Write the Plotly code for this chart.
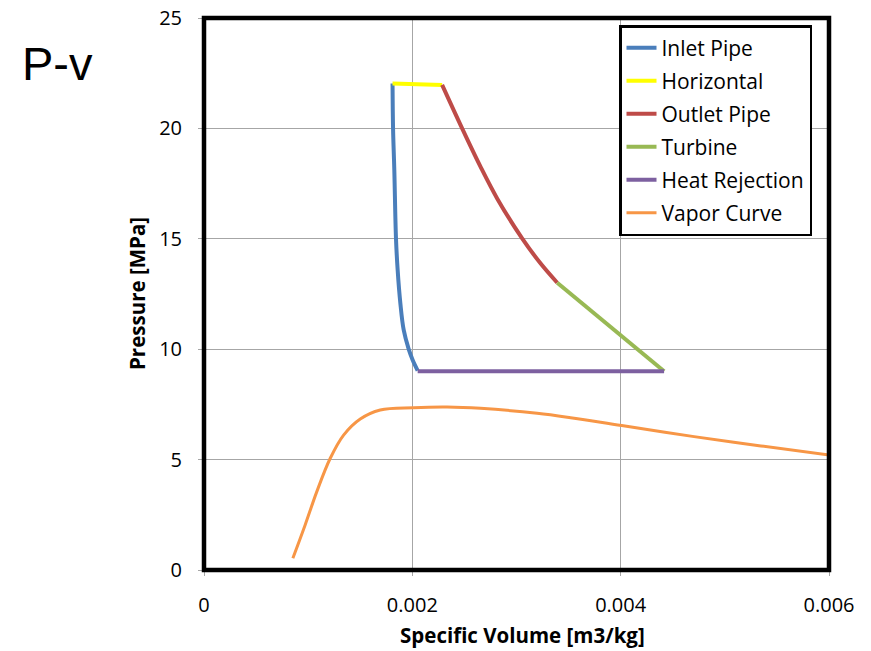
import plotly.graph_objects as go

# Cycle segments on the P-v plane: specific volume [m3/kg], pressure [MPa]
inlet_v = [0.002051, 0.002003, 0.001965, 0.001917, 0.001885, 0.001859,
           0.001843, 0.001827, 0.001815, 0.001810]
inlet_p = [9.03, 9.51, 10.00, 10.87, 12.08, 13.59,
           15.02, 18.12, 20.00, 22.03]

horizontal_v = [0.001810, 0.002286]
horizontal_p = [22.03, 21.97]

outlet_v = [0.002286, 0.002478, 0.002654, 0.002814, 0.003054, 0.003230, 0.003391]
outlet_p = [21.97, 20.00, 18.27, 16.83, 15.02, 13.89, 13.01]

turbine_v = [0.003391, 0.004417]
turbine_p = [13.01, 9.00]

rejection_v = [0.002051, 0.004417]
rejection_p = [9.00, 9.00]

vapor_v = [0.000853, 0.000971, 0.001083, 0.001212, 0.001340, 0.001500, 0.001692,
           0.002013, 0.002333, 0.002654, 0.003198, 0.003519, 0.004010, 0.004705,
           0.005346, 0.006003]
vapor_p = [0.53, 2.04, 3.55, 5.06, 6.11, 6.84, 7.25,
           7.35, 7.38, 7.32, 7.10, 6.90, 6.54, 6.04,
           5.62, 5.21]

x_ticks = [0, 0.002, 0.004, 0.006]
x_tick_text = ["0", "0.002", "0.004", "0.006"]
y_ticks = [0, 5, 10, 15, 20, 25]

series = [
    ("Inlet Pipe", inlet_v, inlet_p, "#4A7EBB", 4),
    ("Horizontal", horizontal_v, horizontal_p, "#FFFF00", 4),
    ("Outlet Pipe", outlet_v, outlet_p, "#BE4B48", 4),
    ("Turbine", turbine_v, turbine_p, "#98B954", 4),
    ("Heat Rejection", rejection_v, rejection_p, "#7D60A0", 4),
    ("Vapor Curve", vapor_v, vapor_p, "#F79646", 3),
]

fig = go.Figure()
for i, (name, xs, ys, color, width) in enumerate(series):
    fig.add_trace(go.Scatter(
        x=xs, y=ys, mode="lines", name=name,
        line=dict(color=color, width=width, shape="spline", smoothing=1.0),
        legendgroup=f"g{i}",
    ))

font_family = "Open Sans, Noto Sans, sans-serif"
grid = "#A6A6A6"

fig.update_layout(
    width=871, height=651,
    margin=dict(l=204, r=42, t=18, b=81),
    paper_bgcolor="white", plot_bgcolor="white",
    font=dict(family=font_family, color="black"),
    showlegend=True,
    legend=dict(
        x=0.664, y=0.987, xanchor="left", yanchor="top",
        bgcolor="white", bordercolor="black", borderwidth=2.5,
        font=dict(size=21, family=font_family, color="black"),
        tracegroupgap=2.7, itemwidth=30,
    ),
    xaxis=dict(
        range=[0, 0.006], tickvals=x_ticks, ticktext=x_tick_text,
        showgrid=True, gridcolor=grid, gridwidth=1,
        ticks="outside", ticklen=5, tickcolor=grid, ticklabelstandoff=12,
        tickfont=dict(size=20), zeroline=False, automargin=False,
    ),
    yaxis=dict(
        range=[0, 25], tickvals=y_ticks,
        showgrid=True, gridcolor=grid, gridwidth=1,
        ticks="outside", ticklen=5, tickcolor=grid, ticklabelstandoff=12,
        tickfont=dict(size=20), zeroline=False, automargin=False,
    ),
    shapes=[dict(
        type="rect", xref="paper", yref="paper", x0=0, y0=0, x1=1, y1=1,
        line=dict(color="black", width=4.5), layer="above",
    )],
    annotations=[
        dict(text="P-v", xref="paper", yref="paper", x=-0.2944, y=0.9167,
             xanchor="left", yanchor="middle", showarrow=False,
             font=dict(size=47, family="Liberation Sans, Arial, sans-serif", color="black")),
        dict(text="<b>Pressure [MPa]</b>", xref="paper", yref="paper", x=-0.1072, y=0.5,
             xanchor="center", yanchor="middle", textangle=-90, showarrow=False,
             font=dict(size=20.5, family=font_family, color="black")),
        dict(text="<b>Specific Volume [m3/kg]</b>", xref="paper", yref="paper", x=0.509, y=-0.1178,
             xanchor="center", yanchor="middle", showarrow=False,
             font=dict(size=20.5, family=font_family, color="black")),
    ],
)

fig.write_html("out.html")
